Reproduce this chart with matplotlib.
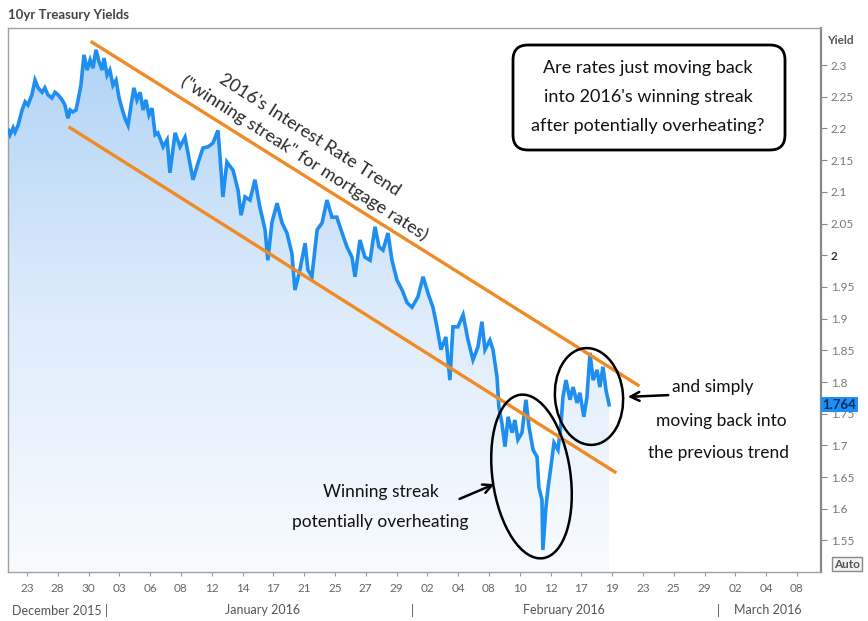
import numpy as np
import matplotlib
matplotlib.use("Agg")
import matplotlib.pyplot as plt
from matplotlib.colors import LinearSegmentedColormap
from matplotlib.patches import Ellipse, FancyBboxPatch
from matplotlib.transforms import blended_transform_factory

plt.rcParams['font.family'] = ['Lato', 'DejaVu Sans']

# ---------------- data ----------------
day_labels = ["23", "28", "30", "03", "06", "08", "12", "14", "17", "21", "25", "27", "29",
              "02", "04", "08", "10", "12", "17", "19", "23", "25", "29", "02", "04", "08"]
month_labels = ["December 2015 |", "January 2016", "|", "February 2016", "|", "March 2016"]
month_pos = [-0.49, 7.66, 12.5, 17.44, 22.44, 24.06]
month_ha = ["left", "center", "center", "center", "center", "center"]

# trading-session position (one unit per date tick) and 10yr yield
t = [-0.60, -0.55, -0.45, -0.39, -0.29, -0.16, -0.06, 0.03, 0.16, 0.26, 0.36, 0.49, 0.58,
     0.68, 0.81, 0.91, 1.01, 1.14, 1.23, 1.33, 1.40, 1.49, 1.59, 1.66, 1.75, 1.85, 1.95,
     2.05, 2.14, 2.24, 2.34, 2.44, 2.50, 2.60, 2.69, 2.79, 2.89, 2.99, 3.08, 3.18, 3.28,
     3.38, 3.47, 3.57, 3.67, 3.77, 3.86, 3.96, 4.06, 4.16, 4.25, 4.42, 4.55, 4.64, 4.81,
     4.97, 5.13, 5.29, 5.39, 5.55, 5.71, 5.88, 6.04, 6.20, 6.30, 6.36, 6.49, 6.69, 6.85,
     6.95, 7.08, 7.24, 7.40, 7.56, 7.73, 7.82, 7.95, 8.12, 8.28, 8.44, 8.60, 8.70, 8.86,
     9.03, 9.12, 9.25, 9.42, 9.58, 9.74, 9.90, 10.06, 10.23, 10.39, 10.55, 10.65, 10.81,
     10.97, 11.14, 11.30, 11.43, 11.56, 11.72, 11.85, 12.01, 12.18, 12.34, 12.50, 12.69,
     12.86, 13.02, 13.18, 13.31, 13.44, 13.60, 13.73, 13.83, 13.99, 14.16, 14.32, 14.48,
     14.64, 14.77, 14.87, 15.03, 15.13, 15.26, 15.32, 15.42, 15.52, 15.62, 15.75, 15.84,
     15.94, 16.07, 16.20, 16.30, 16.43, 16.56, 16.62, 16.72, 16.75, 16.85, 16.92, 17.01,
     17.11, 17.24, 17.34, 17.40, 17.50, 17.63, 17.73, 17.86, 17.95, 18.08, 18.18, 18.28,
     18.38, 18.51, 18.60, 18.70, 18.80, 18.90]
yields = [2.197, 2.190, 2.201, 2.194, 2.205, 2.229, 2.242, 2.237, 2.253, 2.276, 2.264, 2.257,
          2.264, 2.253, 2.248, 2.257, 2.253, 2.245, 2.237, 2.216, 2.229, 2.226, 2.229, 2.245,
          2.268, 2.316, 2.292, 2.308, 2.295, 2.324, 2.305, 2.292, 2.311, 2.284, 2.292, 2.268,
          2.276, 2.248, 2.232, 2.216, 2.205, 2.237, 2.264, 2.245, 2.257, 2.229, 2.245, 2.221,
          2.232, 2.190, 2.193, 2.171, 2.182, 2.130, 2.193, 2.171, 2.186, 2.145, 2.119, 2.145,
          2.169, 2.171, 2.177, 2.197, 2.134, 2.092, 2.147, 2.134, 2.103, 2.063, 2.092, 2.087,
          2.119, 2.076, 2.040, 1.992, 2.051, 2.082, 2.051, 2.035, 2.003, 1.945, 1.977, 2.019,
          1.977, 1.966, 2.040, 2.051, 2.087, 2.060, 2.060, 2.035, 2.013, 1.997, 1.966, 2.024,
          1.997, 1.992, 2.045, 2.013, 2.008, 2.035, 1.992, 1.961, 1.945, 1.925, 1.918, 1.934,
          1.966, 1.940, 1.918, 1.887, 1.851, 1.871, 1.803, 1.887, 1.887, 1.906, 1.866, 1.835,
          1.855, 1.895, 1.851, 1.866, 1.851, 1.808, 1.761, 1.735, 1.698, 1.745, 1.720, 1.740,
          1.709, 1.720, 1.772, 1.729, 1.693, 1.682, 1.634, 1.614, 1.535, 1.603, 1.634, 1.666,
          1.704, 1.693, 1.735, 1.776, 1.803, 1.772, 1.792, 1.767, 1.783, 1.745, 1.776, 1.846,
          1.803, 1.819, 1.792, 1.824, 1.787, 1.764]
last_value = 1.764

upper_trend_t = [2.11, 19.84]
upper_trend_y = [2.336, 1.795]
lower_trend_t = [1.40, 19.09]
lower_trend_y = [2.201, 1.658]

yticks = [1.55, 1.6, 1.65, 1.7, 1.75, 1.8, 1.85, 1.9, 1.95, 2.0, 2.05, 2.1, 2.15, 2.2, 2.25, 2.3]

# ---------------- figure ----------------
W, H = 868, 621
fig = plt.figure(figsize=(W / 100, H / 100), dpi=100)
ax = fig.add_axes([8 / W, 1 - 572 / H, (821 - 8) / W, (572 - 28) / H])

xlim = (-0.617, 25.78)
ylim = (1.5003, 2.3584)

# gradient area under the curve
poly = ax.fill_between(t, yields, ylim[0], facecolor="none", edgecolor="none")
cmap = LinearSegmentedColormap.from_list("g", ["#f8fbfe", "#dcebfb", "#add1f5"])
im = ax.imshow(np.linspace(0, 1, 256).reshape(-1, 1), extent=[xlim[0], xlim[1], ylim[0], ylim[1]],
               origin="lower", aspect="auto", cmap=cmap, zorder=1)
im.set_clip_path(poly.get_paths()[0], transform=ax.transData)

ax.plot(t, yields, color="#1f8ef1", lw=2.6, zorder=3, solid_joinstyle="miter")
ax.plot(upper_trend_t, upper_trend_y, color="#f08a24", lw=2.4, zorder=4)
ax.plot(lower_trend_t, lower_trend_y, color="#f08a24", lw=2.4, zorder=4)

ax.set_xlim(*xlim)
ax.set_ylim(*ylim)

ax.set_xticks(range(len(day_labels)))
ax.set_xticklabels(day_labels)
ax.tick_params(axis="x", length=3, pad=5, labelsize=8.5, labelcolor="#666", color="#999")

ax.yaxis.tick_right()
ax.set_yticks(yticks)
ax.set_yticklabels(["%g" % v for v in yticks])
ax.tick_params(axis="y", length=4, pad=3, labelsize=8.5, labelcolor="#777", color="#888")
for lbl in ax.get_yticklabels():
    if lbl.get_text() == "2":
        lbl.set_fontweight("bold")
        lbl.set_color("#333")

for s in ["top", "left", "bottom"]:
    ax.spines[s].set_color("#a0a0a0")
    ax.spines[s].set_linewidth(1.0)
ax.spines["right"].set_color("#888")
ax.spines["right"].set_linewidth(1.6)

trans_xa = blended_transform_factory(ax.transData, ax.transAxes)
for lab, pos, ha in zip(month_labels, month_pos, month_ha):
    ax.text(pos, -0.0699, lab, transform=trans_xa, ha=ha, va="center", fontsize=9,
            color="#555", clip_on=False)

trans_ay = blended_transform_factory(ax.transAxes, ax.transData)
ax.text(1.002, last_value, "%.3f" % last_value, transform=trans_ay, ha="left", va="center",
        fontsize=9.5, fontweight="bold", color="#0b2a5c", zorder=10, clip_on=False,
        bbox=dict(boxstyle="square,pad=0.12", fc="#1e8ff5", ec="none"))


def fx(x):
    return x / W


def fy(y):
    return 1 - y / H


fig.text(fx(8), fy(15), "10yr Treasury Yields", fontsize=9.5, fontweight="bold",
         color="#444", ha="left", va="center")
fig.text(fx(840), fy(40), "Yield", fontsize=8.5, fontweight="bold", color="#555",
         ha="center", va="center")
fig.text(fx(847), fy(564), "Auto", fontsize=8.5, fontweight="bold", color="#555",
         ha="center", va="center",
         bbox=dict(boxstyle="square,pad=0.15", fc="#f2f2f2", ec="#888", lw=1))

# question box
box = FancyBboxPatch((5.13, (H - 150) / 100), 2.72, 1.05,
                     boxstyle="round,pad=0,rounding_size=0.15",
                     transform=fig.dpi_scale_trans, fc="white", ec="black", lw=2, zorder=5)
fig.add_artist(box)
for txt, yy in zip(["Are rates just moving back", "into 2016's winning streak",
                    "after potentially overheating?"], [68, 97, 126]):
    fig.text(fx(648), fy(yy), txt, fontsize=13, color="#111", ha="center", va="center",
             zorder=6)

# rotated trend caption
fig.text(fx(310), fy(135), "2016's Interest Rate Trend", fontsize=13, color="#2a2a2a",
         ha="center", va="center", rotation=-32.7, rotation_mode="anchor")
fig.text(fx(304), fy(158), "(\"winning streak\" for mortgage rates)", fontsize=13,
         color="#2a2a2a", ha="center", va="center", rotation=-32.7, rotation_mode="anchor")

# ellipses
fig.add_artist(Ellipse((531.5 / 100, (H - 476.5) / 100), 0.78, 1.65, angle=8,
                       transform=fig.dpi_scale_trans, fill=False, ec="black", lw=1.8))
fig.add_artist(Ellipse((589 / 100, (H - 396.5) / 100), 0.68, 0.97, angle=5,
                       transform=fig.dpi_scale_trans, fill=False, ec="black", lw=1.8))

# arrows
ax.annotate("", xy=(497, H - 483), xytext=(457, H - 500), xycoords="figure pixels",
            textcoords="figure pixels",
            arrowprops=dict(arrowstyle="->", lw=1.8, color="black", mutation_scale=16))
ax.annotate("", xy=(625, H - 397), xytext=(671, H - 395), xycoords="figure pixels",
            textcoords="figure pixels",
            arrowprops=dict(arrowstyle="->", lw=1.8, color="black", mutation_scale=16))

fig.text(fx(381), fy(492), "Winning streak", fontsize=12.5, color="#111", ha="center",
         va="center")
fig.text(fx(380), fy(522), "potentially overheating", fontsize=12.5, color="#111",
         ha="center", va="center")
fig.text(fx(672), fy(387), "and simply", fontsize=12.5, color="#111", ha="left", va="center")
fig.text(fx(721), fy(421), "moving back into", fontsize=12.5, color="#111", ha="center",
         va="center")
fig.text(fx(718), fy(453), "the previous trend", fontsize=12.5, color="#111", ha="center",
         va="center")

fig.savefig("out.png", dpi=100)
